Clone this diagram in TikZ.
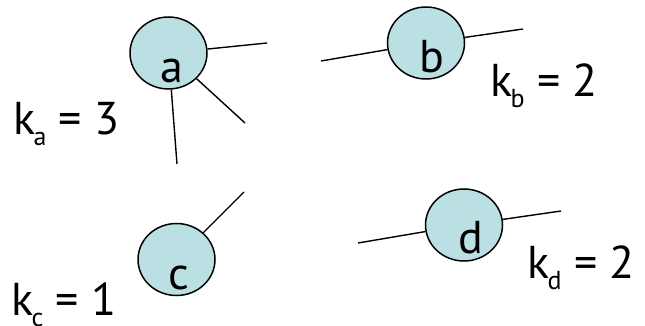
\documentclass[tikz,border=0pt]{standalone}
\usepackage{fontspec}
\setmainfont{PT Sans}
\usetikzlibrary{shapes.geometric}
\definecolor{nodefill}{RGB}{187,224,227}
\newcommand{\ksub}[1]{k\kern-1.5pt\raisebox{-11pt}{\fontsize{26}{26}\selectfont #1}}
\begin{document}
\begin{tikzpicture}[x=1pt,y=-1pt,
  vtx/.style={ellipse, draw=black, line width=1.5pt, fill=nodefill,
    minimum width=77pt, minimum height=72pt, inner sep=0pt},
  vname/.style={anchor=base, inner sep=0pt, font=\fontsize{46}{50}\selectfont},
  edge/.style={line width=1.4pt},
  lbl/.style={anchor=base west, inner sep=0pt, font=\fontsize{46}{50}\selectfont}]
\useasboundingbox (0,0) rectangle (645,326);
% vertices
\node[vtx] (a) at (168.5,53) {};
\node[vtx] (b) at (426,43) {};
\node[vtx] (c) at (176.5,259.5) {};
\node[vtx] (d) at (464,225) {};
\node[vname] (na) at (172,83) {a};
\node[vname] (nb) at (432,73) {b};
\node[vname] (nc) at (179,289) {c};
\node[vname] (nd) at (471,253) {d};
% free ends
\coordinate (a1) at (267,43);
\coordinate (a2) at (245,123);
\coordinate (a3) at (177,164);
\coordinate (b1) at (321,61);
\coordinate (b2) at (523,29);
\coordinate (c1) at (244,192);
\coordinate (d1) at (358,243);
\coordinate (d2) at (561,211);
\draw[edge] (a) -- (a1);
\draw[edge] (a) -- (a2);
\draw[edge] (a) -- (a3);
\draw[edge] (b) -- (b1);
\draw[edge] (b) -- (b2);
\draw[edge] (c) -- (c1);
\draw[edge] (d) -- (d1);
\draw[edge] (d) -- (d2);
% degree labels
\node[lbl] (ka) at (13,135) {\ksub{a} = 3};
\node[lbl] (kb) at (490,97) {\ksub{b} = 2};
\node[lbl] (kc) at (11,315) {\ksub{c} = 1};
\node[lbl] (kd) at (527,278) {\ksub{d} = 2};
\end{tikzpicture}
\end{document}
